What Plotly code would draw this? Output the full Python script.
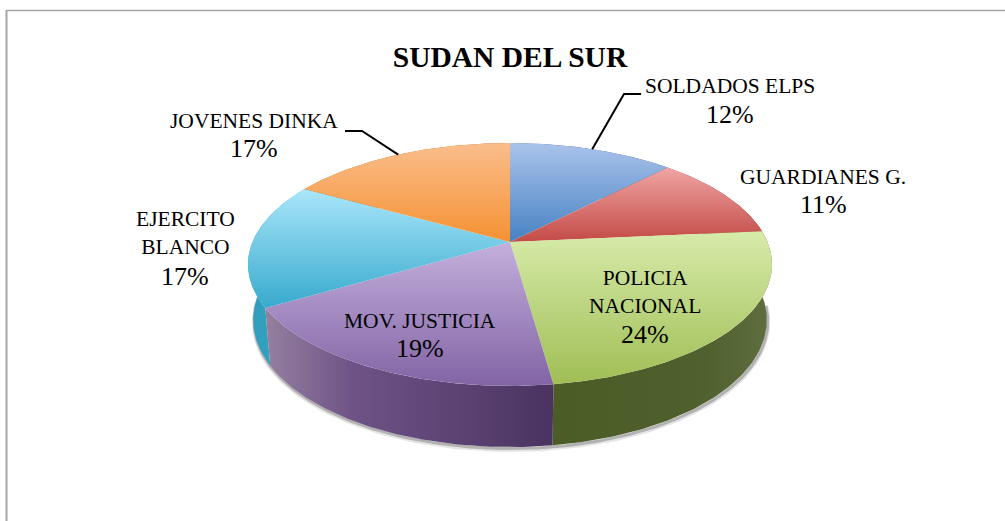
import numpy as np
import plotly.graph_objects as go

# Data
title = "SUDAN DEL SUR"
categories = ["SOLDADOS ELPS", "GUARDIANES G.", "POLICIA NACIONAL", "MOV. JUSTICIA", "EJERCITO BLANCO", "JOVENES DINKA"]
values = [12.2, 11.3, 24.3, 18.7, 16.7, 16.8]
percent_labels = ["12%", "11%", "24%", "19%", "17%", "17%"]

# Style
name_lines = ["SOLDADOS ELPS", "GUARDIANES G.", "POLICIA<br>NACIONAL", "MOV. JUSTICIA", "EJERCITO<br>BLANCO", "JOVENES DINKA"]
name_pos = [(730, 86), (823, 177), (645, 292), (420, 321), (185, 233), (254, 121)]
pct_pos = [(730, 114), (823, 204), (645, 334), (420, 348), (185, 276), (254, 148)]
top_colors = [("#4682c3", "#aac3eb"), ("#c34b46", "#f0a5a5"), ("#a0be55", "#d7ebaa"),
              ("#8264a5", "#c3afdc"), ("#37aacd", "#aae6fa"), ("#f59132", "#fabe8c")]
wall_colors = [[[0, "#34608f"], [1, "#34608f"]], [[0, "#8f3a36"], [1, "#8f3a36"]],
               [[0, "#4c5c26"], [0.7, "#50602e"], [1, "#5e6e40"]],
               [[0, "#95809f"], [0.3, "#6f5388"], [1, "#4a3360"]],
               [[0, "#2f9dbb"], [1, "#37a6c4"]], [[0, "#b06a20"], [1, "#b06a20"]]]
FONT = "Liberation Serif"

# Projection of the pie disc (perspective onto the page)
CX, CY, A, B, K = 510.0, 242.0, 257.5, 117.3, 0.185
BASE_SCALE, DEPTH_SIDE, DEPTH_FRONT = 0.98, 54.0, 10.0


def project(phi, base=False):
    d = 1 + K * np.cos(phi)
    u = A * np.sin(phi) / d
    v = B * np.cos(phi) / d
    if base:
        return CX + BASE_SCALE * u, CY - BASE_SCALE * v + DEPTH_SIDE - DEPTH_FRONT * np.cos(phi)
    return CX + u, CY - v


cum = np.concatenate([[0], np.cumsum(values)]) / np.sum(values) * 2 * np.pi
fig = go.Figure()

# soft shadow under the base
phis = np.linspace(np.pi * 0.52, np.pi * 1.5, 200)
for off, alpha, w in [(2.5, 0.10, 5), (1.5, 0.22, 3)]:
    sx, sy = project(phis, base=True)
    fig.add_trace(go.Scatter(x=sx + 1, y=sy + off, mode="lines", hoverinfo="skip", showlegend=False,
                             line=dict(color=f"rgba(0,0,0,{alpha})", width=w)))

# walls
for i in [0, 5, 1, 4, 2, 3]:
    ph = np.linspace(cum[i], cum[i + 1], 100)
    tx, ty = project(ph)
    bx, by = project(ph[::-1], base=True)
    fig.add_trace(go.Scatter(x=np.r_[tx, bx], y=np.r_[ty, by], mode="lines", fill="toself",
                             line=dict(width=0, color="rgba(0,0,0,0)"), hoverinfo="skip", showlegend=False,
                             fillgradient=dict(type="horizontal", colorscale=wall_colors[i])))

# top faces
for i, name in enumerate(categories):
    ph = np.linspace(cum[i], cum[i + 1], 100)
    tx, ty = project(ph)
    fig.add_trace(go.Scatter(x=np.r_[CX, tx, CX], y=np.r_[CY, ty, CY], mode="lines", fill="toself",
                             name=name, showlegend=False, hoverinfo="name",
                             line=dict(width=0, color="rgba(0,0,0,0)"),
                             fillgradient=dict(type="vertical", colorscale=[[0, top_colors[i][0]], [1, top_colors[i][1]]])))

# leader lines
for i, elbow in [(0, [(624, 94), (641, 94)]), (5, [(362, 131), (345, 131)])]:
    x0, y0 = project((cum[i] + cum[i + 1]) / 2)
    fig.add_trace(go.Scatter(x=[x0] + [p[0] for p in elbow], y=[y0] + [p[1] for p in elbow], mode="lines",
                             line=dict(color="black", width=2), hoverinfo="skip", showlegend=False))

annotations = [dict(x=p[0], y=p[1], text=t, showarrow=False, xref="x", yref="y",
                    font=dict(family=FONT, size=21.5, color="#000000"), align="center")
               for t, p in zip(name_lines, name_pos)]
annotations += [dict(x=p[0], y=p[1], text=t, showarrow=False, xref="x", yref="y",
                     font=dict(family=FONT, size=26, color="#000000"), align="center")
                for t, p in zip(percent_labels, pct_pos)]

shapes = [
    dict(type="line", xref="x", yref="y", x0=6.5, x1=6.5, y0=10, y1=521, line=dict(color="#a6a6a6", width=2)),
    dict(type="line", xref="x", yref="y", x0=6, x1=1005, y0=10.5, y1=10.5, line=dict(color="#a6a6a6", width=1.5)),
]

fig.update_layout(
    width=1005, height=521, margin=dict(l=0, r=0, t=0, b=0),
    paper_bgcolor="white", plot_bgcolor="white", showlegend=False,
    title=dict(text=f"<b>{title}</b>", x=510 / 1005, y=1 - 57 / 521, xanchor="center", yanchor="middle",
               font=dict(family=FONT, size=29.5, color="black")),
    xaxis=dict(range=[0, 1005], visible=False, fixedrange=True),
    yaxis=dict(range=[521, 0], visible=False, fixedrange=True),
    annotations=annotations, shapes=shapes,
)

fig.write_html("out.html", config=dict(displayModeBar=False),
               post_script="document.body.style.margin='0';document.body.style.overflow='hidden';")
